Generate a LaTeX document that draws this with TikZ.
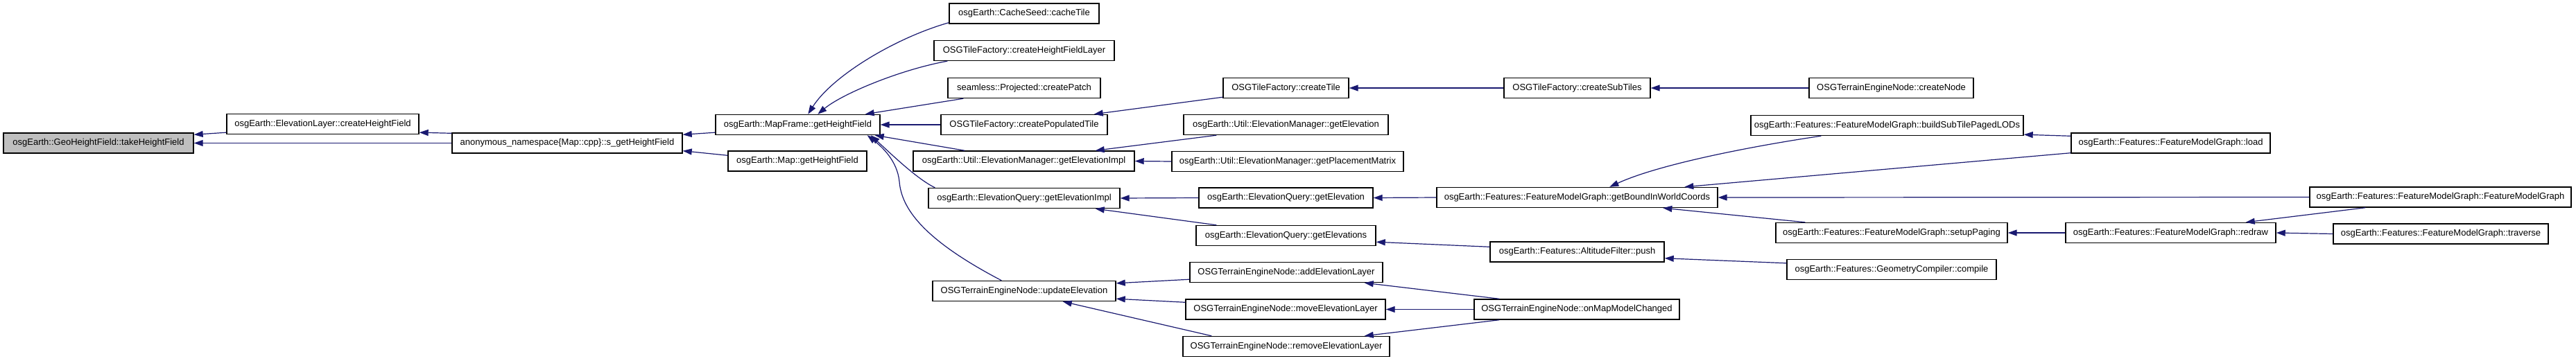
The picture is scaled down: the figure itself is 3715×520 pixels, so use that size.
\documentclass[tikz,border=0pt]{standalone}
\usepackage{fontspec}
\setmainfont{Liberation Sans}
\usetikzlibrary{calc,arrows.meta}
\definecolor{edgeblue}{HTML}{191970}
\definecolor{rootgray}{HTML}{BFBFBF}
\tikzset{
  fn/.style={draw=black, line width=1.4pt, fill=white, inner sep=0pt, minimum height=29pt, align=center,
    font=\fontsize{13pt}{15pt}\selectfont},
  rootfn/.style={fn, fill=rootgray},
  edge/.style={draw=edgeblue, line width=1.2pt, -{Triangle[length=13pt,width=9pt]}}
}
\begin{document}
\begin{tikzpicture}[x=1pt,y=-1pt]
\useasboundingbox (0,0) rectangle (3715,520);
% rank 0-3
\node[rootfn, minimum width=274pt] (take) at (142,206.5) {osgEarth::GeoHeightField::takeHeightField};
\node[fn, minimum width=277pt] (elevLayer) at (465.5,179) {osgEarth::ElevationLayer::createHeightField};
\node[fn, minimum width=332pt] (sget) at (818,206.5) {anonymous\_namespace\{Map::cpp\}::s\_getHeightField};
\node[fn, minimum width=237pt] (mapframe) at (1150.5,180) {osgEarth::MapFrame::getHeightField};
\node[fn, minimum width=200pt] (mapget) at (1150,232.5) {osgEarth::Map::getHeightField};
% rank 4
\node[fn, minimum width=216pt] (cacheTile) at (1477,19.5) {osgEarth::CacheSeed::cacheTile};
\node[fn, minimum width=260pt] (cHFL) at (1477,73) {OSGTileFactory::createHeightFieldLayer};
\node[fn, minimum width=220pt] (createPatch) at (1477,127) {seamless::Projected::createPatch};
\node[fn, minimum width=240pt] (cPopTile) at (1477,180) {OSGTileFactory::createPopulatedTile};
\node[fn, minimum width=319pt] (emGetElevImpl) at (1476.5,232.5) {osgEarth::Util::ElevationManager::getElevationImpl};
\node[fn, minimum width=276pt] (eqGetElevImpl) at (1477,286) {osgEarth::ElevationQuery::getElevationImpl};
\node[fn, minimum width=264pt] (updateElev) at (1477,420) {OSGTerrainEngineNode::updateElevation};
% rank 5
\node[fn, minimum width=181pt] (createTile) at (1854.5,127) {OSGTileFactory::createTile};
\node[fn, minimum width=295pt] (emGetElev) at (1854.5,180) {osgEarth::Util::ElevationManager::getElevation};
\node[fn, minimum width=334pt] (emPlacement) at (1857,233) {osgEarth::Util::ElevationManager::getPlacementMatrix};
\node[fn, minimum width=251pt] (eqGetElev) at (1854.5,285.5) {osgEarth::ElevationQuery::getElevation};
\node[fn, minimum width=259pt] (eqGetElevs) at (1854.5,340) {osgEarth::ElevationQuery::getElevations};
\node[fn, minimum width=278pt] (addEL) at (1855,393) {OSGTerrainEngineNode::addElevationLayer};
\node[fn, minimum width=288pt] (moveEL) at (1854,446.5) {OSGTerrainEngineNode::moveElevationLayer};
\node[fn, minimum width=298pt] (removeEL) at (1855,500) {OSGTerrainEngineNode::removeElevationLayer};
% rank 6
\node[fn, minimum width=211pt] (createSubTiles) at (2274.5,127) {OSGTileFactory::createSubTiles};
\node[fn, minimum width=405pt] (getBound) at (2274.5,285) {osgEarth::Features::FeatureModelGraph::getBoundInWorldCoords};
\node[fn, minimum width=251pt] (altPush) at (2274.5,363.5) {osgEarth::Features::AltitudeFilter::push};
\node[fn, minimum width=296pt] (onMapModel) at (2274,446.5) {OSGTerrainEngineNode::onMapModelChanged};
% rank 7
\node[fn, minimum width=237pt] (createNode) at (2727.5,127) {OSGTerrainEngineNode::createNode};
\node[fn, minimum width=393pt] (buildSub) at (2721.5,181) {osgEarth::Features::FeatureModelGraph::buildSubTilePagedLODs};
\node[fn, minimum width=334pt] (setupPaging) at (2728,336) {osgEarth::Features::FeatureModelGraph::setupPaging};
\node[fn, minimum width=302pt] (geomCompile) at (2728,389) {osgEarth::Features::GeometryCompiler::compile};
% rank 8
\node[fn, minimum width=287pt] (fmgLoad) at (3130.5,206.5) {osgEarth::Features::FeatureModelGraph::load};
\node[fn, minimum width=303pt] (redraw) at (3130.5,336) {osgEarth::Features::FeatureModelGraph::redraw};
% rank 9
\node[fn, minimum width=377pt] (fmgCtor) at (3519.5,284.5) {osgEarth::Features::FeatureModelGraph::FeatureModelGraph};
\node[fn, minimum width=310pt] (traverse) at (3520,337.5) {osgEarth::Features::FeatureModelGraph::traverse};

% edges (caller -> callee)
\draw[edge] ($(elevLayer.south west)+(0,-3)$) -- ($(take.north east)+(0,3)$);
\draw[edge] (sget.west) -- (take.east);
\draw[edge] ($(sget.north west)+(0,1)$) -- ($(elevLayer.south east)+(0,-3)$);
\draw[edge] ($(mapframe.south west)+(0,-4)$) -- ($(sget.north east)+(0,3)$);
\draw[edge] ($(mapget.north west)+(0,7)$) -- ($(sget.south east)+(0,-4)$);
\draw[edge] ($(cacheTile.south west)+(0,-2)$) .. controls (1290,55) and (1200,110) .. ($(mapframe.north west)+(134,0)$);
\draw[edge] ($(cHFL.south west)+(20,0)$) .. controls (1300,100) and (1215,135) .. ($(mapframe.north west)+(148,0)$);
\draw[edge] ($(createPatch.south west)+(23,0)$) -- ($(mapframe.north east)+(-22,0)$);
\draw[edge] (cPopTile.west) -- (mapframe.east);
\draw[edge] ($(emGetElevImpl.north west)+(75,0)$) -- ($(mapframe.south east)+(-8,0)$);
\draw[edge] ($(eqGetElevImpl.north west)+(10,0)$) .. controls (1322,258) and (1285,222) .. ($(mapframe.south east)+(-14,0)$);
\draw[edge] ($(updateElev.north west)+(100,0)$) .. controls (1330,345) and (1300,300) .. (1297,262) .. controls (1294,232) and (1272,212) .. ($(mapframe.south east)+(-19,0)$);
\draw[edge] ($(createTile.south west)+(0,-2)$) -- ($(cPopTile.north east)+(-20,0)$);
\draw[edge] (createSubTiles.west) -- (createTile.east);
\draw[edge] (createNode.west) -- (createSubTiles.east);
\draw[edge] ($(emGetElev.south west)+(48,0)$) -- ($(emGetElevImpl.north east)+(-57,0)$);
\draw[edge] (emPlacement.west) -- (emGetElevImpl.east);
\draw[edge] (eqGetElev.west) -- (eqGetElevImpl.east);
\draw[edge] ($(eqGetElevs.north west)+(30,0)$) -- ($(eqGetElevImpl.south east)+(-36,0)$);
\draw[edge] (getBound.west) -- (eqGetElev.east);
\draw[edge] ($(altPush.north west)+(0,8)$) -- ($(eqGetElevs.south east)+(0,-6)$);
\draw[edge] ($(geomCompile.north west)+(0,6)$) -- ($(altPush.south east)+(0,-6)$);
\draw[edge] ($(buildSub.south west)+(102,0)$) .. controls (2520,212) and (2390,238) .. ($(getBound.north west)+(250,0)$);
\draw[edge] ($(fmgLoad.south west)+(0,-1)$) -- ($(getBound.north west)+(358,0)$);
\draw[edge] ($(setupPaging.north west)+(43,0)$) -- ($(getBound.south west)+(327,0)$);
\draw[edge] (fmgCtor.west) -- (getBound.east);
\draw[edge] ($(fmgLoad.north west)+(0,5)$) -- ($(buildSub.south east)+(0,-2)$);
\draw[edge] (redraw.west) -- (setupPaging.east);
\draw[edge] ($(fmgCtor.south west)+(81,0)$) -- ($(redraw.north east)+(-44,0)$);
\draw[edge] (traverse.west) -- (redraw.east);
\draw[edge] ($(addEL.south west)+(0,-5)$) -- ($(updateElev.north east)+(0,4)$);
\draw[edge] ($(moveEL.north west)+(0,5)$) -- ($(updateElev.south east)+(0,-4)$);
\draw[edge] ($(removeEL.north west)+(42,0)$) -- ($(updateElev.south east)+(-77,0)$);
\draw[edge] ($(onMapModel.north west)+(37,0)$) -- ($(addEL.south east)+(-27,0)$);
\draw[edge] (onMapModel.west) -- (moveEL.east);
\draw[edge] ($(onMapModel.south west)+(37,0)$) -- ($(removeEL.north east)+(-37,0)$);
\end{tikzpicture}
\end{document}
